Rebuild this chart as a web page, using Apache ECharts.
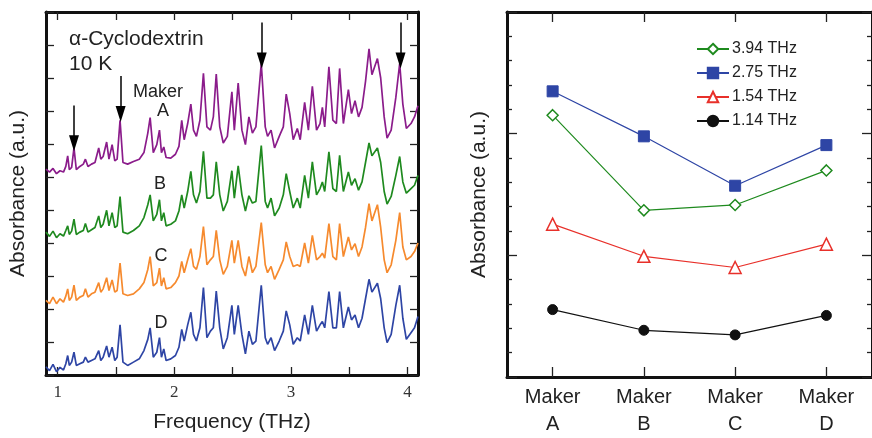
<!DOCTYPE html>
<html>
<head>
<meta charset="utf-8">
<script src="https://cdn.jsdelivr.net/npm/echarts@6/dist/echarts.min.js"></script>
<style>
html,body{margin:0;padding:0;background:#fff;}
#chart{width:872px;height:438px;}
</style>
</head>
<body>
<div id="chart"></div>
<script>
// ---------- Left panel: THz spectra ----------
const freq = [0.90,0.93,0.96,0.99,1.02,1.05,1.07,1.086,1.10,1.12,1.14,1.16,1.19,1.22,1.238,1.26,1.29,1.32,1.352,1.37,
  1.39,1.42,1.44,1.467,1.49,1.51,1.535,1.56,1.60,1.65,1.70,1.74,1.773,1.793,1.82,1.85,1.873,1.89,1.91,1.93,
  1.97,2.01,2.04,2.064,2.085,2.115,2.142,2.165,2.19,2.22,2.25,2.28,2.31,2.335,2.36,2.39,2.42,2.455,2.494,2.515,
  2.548,2.58,2.61,2.64,2.67,2.70,2.746,2.78,2.80,2.83,2.86,2.90,2.935,2.96,2.99,3.02,3.055,3.08,3.118,3.15,
  3.184,3.22,3.25,3.27,3.29,3.326,3.36,3.39,3.418,3.45,3.493,3.52,3.55,3.58,3.61,3.64,3.67,3.695,3.742,3.77,
  3.80,3.825,3.86,3.90,3.933,3.96,3.99,4.03,4.06,4.09];

const makerA = [6.24,6.15,6.26,6.10,6.19,6.15,6.32,6.64,6.22,6.29,6.88,6.22,6.32,6.39,6.54,6.32,6.39,6.44,6.88,6.54,
  6.62,7.06,6.54,6.98,6.49,6.54,7.72,6.44,6.39,6.47,6.54,6.74,7.33,7.80,6.74,6.98,7.42,6.74,6.91,6.59,
  6.57,6.69,6.93,7.72,7.13,7.62,8.21,7.42,7.23,7.72,9.14,7.52,7.42,7.82,9.12,7.52,7.03,7.23,8.58,7.42,
  8.85,7.42,6.98,7.82,7.33,7.52,9.44,7.52,7.23,7.42,6.88,7.23,7.52,8.51,7.92,7.13,7.47,7.13,8.26,7.42,
  8.75,7.42,7.62,8.11,7.52,9.34,7.72,7.62,9.29,7.62,8.65,7.92,8.31,7.82,8.11,8.90,9.88,9.10,9.59,9.00,
  7.82,7.18,7.42,8.41,9.44,8.21,7.47,7.62,7.82,8.16];

const makerB = [4.33,4.20,4.36,4.16,4.28,4.21,4.38,4.52,4.26,4.36,4.72,4.26,4.33,4.38,4.59,4.33,4.40,4.47,4.82,4.47,
  4.57,4.99,4.52,4.92,4.47,4.52,5.41,4.33,4.28,4.38,4.52,4.77,5.16,5.46,4.67,4.87,5.31,4.67,4.92,4.52,
  4.57,4.67,4.97,5.46,5.06,5.56,6.17,5.46,5.21,5.56,6.78,5.36,5.36,5.46,6.46,5.46,4.97,5.26,6.19,5.36,
  6.34,5.46,4.97,5.43,5.21,5.26,6.95,5.26,5.06,5.36,4.82,5.06,5.46,6.10,5.56,5.06,5.36,5.06,6.05,5.36,
  6.46,5.46,5.65,5.85,5.56,6.76,5.65,5.56,6.66,5.56,6.15,5.75,5.95,5.60,5.85,6.44,7.03,6.64,6.88,6.44,
  5.56,5.18,5.41,6.05,6.62,5.85,5.51,5.65,5.75,6.05];

const makerC = [2.26,2.16,2.36,2.16,2.31,2.21,2.39,2.61,2.26,2.36,2.72,2.26,2.36,2.41,2.61,2.36,2.46,2.51,2.80,2.51,
  2.61,2.95,2.56,2.88,2.51,2.56,3.39,2.46,2.41,2.46,2.61,2.80,3.20,3.59,2.70,2.80,3.24,2.70,2.95,2.61,
  2.65,2.80,3.00,3.44,3.10,3.49,3.83,3.29,3.20,3.59,4.50,3.34,3.49,3.59,4.38,3.49,3.05,3.29,4.08,3.39,
  4.08,3.29,3.00,3.59,3.10,3.29,4.62,3.34,3.10,3.29,2.90,3.20,3.49,4.03,3.59,3.29,3.34,3.29,4.00,3.39,
  4.23,3.49,3.59,3.69,3.54,4.59,3.59,3.49,4.59,3.59,4.18,3.79,3.98,3.59,3.88,4.47,5.19,4.67,5.16,4.47,
  3.49,3.10,3.34,4.08,4.92,3.88,3.49,3.59,3.74,4.00];

const makerD = [0.25,0.13,0.32,0.10,0.23,0.15,0.34,0.59,0.29,0.39,0.69,0.29,0.34,0.39,0.54,0.39,0.44,0.49,0.74,0.44,
  0.54,0.88,0.54,0.84,0.44,0.54,1.52,0.39,0.29,0.39,0.49,0.74,1.08,1.43,0.54,0.69,1.13,0.54,0.79,0.44,
  0.49,0.59,0.84,1.38,1.03,1.52,1.90,1.23,1.03,1.43,2.65,1.13,1.33,1.43,2.54,1.43,0.79,1.13,2.11,1.23,
  2.11,1.23,0.64,1.33,0.93,1.03,2.72,1.13,0.93,1.13,0.74,1.03,1.33,1.94,1.52,0.93,1.13,1.03,1.82,1.23,
  2.11,1.33,1.52,1.62,1.43,2.53,1.43,1.43,2.53,1.43,2.06,1.67,1.82,1.43,1.72,2.31,2.90,2.51,2.78,2.31,
  1.43,0.98,1.23,2.11,2.72,1.72,1.08,1.28,1.43,1.77];

const freqTickValues = [1, 1.5, 2, 2.5, 3, 3.5, 4];
const freqLabelValues = [1, 2, 3, 4];

// marked absorption lines (arrows)
const arrowFreq = [1.14, 1.54, 2.75, 3.94];
const arrowTop  = [8.17, 9.06, 10.68, 10.68];
const arrowTip  = [7.02, 7.91, 9.53, 9.53];

// ---------- Right panel: peak absorbance per maker ----------
const makers   = ['Maker\nA', 'Maker\nB', 'Maker\nC', 'Maker\nD'];
const peak394  = [10.76, 6.85, 7.07, 8.49];
const peak275  = [11.74, 9.89, 7.86, 9.53];
const peak154  = [6.28, 4.96, 4.50, 5.46];
const peak114  = [2.77, 1.92, 1.73, 2.53];

const SANS = '"Liberation Sans", Arial, sans-serif';
const SERIF = '"Liberation Serif", "Times New Roman", serif';

const colA = '#8B1C8B', colB = '#1F8A1F', colC = '#F68A2E', colD = '#2E45A5';

function pairs(ys){ return freq.map((f,i)=>[f, ys[i]]); }

const tickStyle = {show:true, inside:true, length:8, lineStyle:{color:'#222', width:1.3}};
const borderLine = {show:true, onZero:false, lineStyle:{color:'#111', width:3}};

const arrowLines = arrowFreq.map((f,i)=>[
  {coord:[f, arrowTop[i]], symbol:'none'},
  {coord:[f, arrowTip[i]], symbol:'triangle', symbolSize:[10,16]}
]);

const spec = (c)=>({color:c, width:1.7});

const option = {
  animation:false,
  backgroundColor:'#fff',
  grid:[
    {left:46, top:12, width:372, height:373},
    {left:507, top:12, width:369, height:370}
  ],
  xAxis:[
    {gridIndex:0, type:'value', min:0.9, max:4.09, position:'bottom',
     name:'Frequency (THz)', nameLocation:'middle', nameGap:37,
     nameTextStyle:{fontFamily:SANS, fontSize:21, color:'#222'},
     axisLine:borderLine, splitLine:{show:false},
     axisTick:Object.assign({customValues:freqTickValues}, tickStyle),
     axisLabel:{customValues:freqLabelValues, margin:9, fontFamily:SERIF, fontSize:17, color:'#333'}},
    {gridIndex:0, type:'value', min:0.9, max:4.09, position:'top',
     axisLine:borderLine, splitLine:{show:false},
     axisTick:Object.assign({customValues:freqTickValues}, tickStyle),
     axisLabel:{show:false}},
    {gridIndex:1, type:'category', data:makers, position:'bottom', boundaryGap:true,
     axisLine:borderLine, splitLine:{show:false},
     axisTick:{show:true, inside:true, alignWithLabel:true, length:10, lineStyle:{color:'#222', width:1.3}},
     axisLabel:{margin:7, fontFamily:SANS, fontSize:20, lineHeight:27, color:'#222'}},
    {gridIndex:1, type:'category', data:makers, position:'top', boundaryGap:true,
     axisLine:borderLine, splitLine:{show:false},
     axisTick:{show:true, inside:true, alignWithLabel:true, length:10, lineStyle:{color:'#222', width:1.3}},
     axisLabel:{show:false}}
  ],
  yAxis:[
    {gridIndex:0, type:'value', min:0, max:11, interval:1, position:'left',
     name:'Absorbance (a.u.)', nameLocation:'middle', nameGap:17,
     nameTextStyle:{fontFamily:SANS, fontSize:21, color:'#222'},
     axisLine:borderLine, splitLine:{show:false}, axisTick:tickStyle, axisLabel:{show:false}},
    {gridIndex:0, type:'value', min:0, max:11, interval:1, position:'right',
     axisLine:borderLine, splitLine:{show:false}, axisTick:tickStyle, axisLabel:{show:false}},
    {gridIndex:1, type:'value', min:0, max:15, interval:5, position:'left',
     name:'Absorbance (a.u.)', nameLocation:'middle', nameGap:17,
     nameTextStyle:{fontFamily:SANS, fontSize:21, color:'#222'},
     axisLine:borderLine, splitLine:{show:false},
     axisTick:{show:true, inside:true, length:10, lineStyle:{color:'#222', width:1.3}},
     minorTick:{show:true, splitNumber:5, length:5, lineStyle:{color:'#222', width:1.3}},
     axisLabel:{show:false}},
    {gridIndex:1, type:'value', min:0, max:15, interval:5, position:'right',
     axisLine:borderLine, splitLine:{show:false},
     axisTick:{show:true, inside:true, length:10, lineStyle:{color:'#222', width:1.3}},
     minorTick:{show:true, splitNumber:5, length:5, lineStyle:{color:'#222', width:1.3}},
     axisLabel:{show:false}}
  ],
  legend:{
    left:691, top:36, orient:'vertical', itemWidth:32, itemHeight:13, itemGap:8,
    data:['3.94 THz','2.75 THz','1.54 THz','1.14 THz'],
    textStyle:{fontFamily:SANS, fontSize:16, color:'#222', padding:[0,0,0,-2]}
  },
  series:[
    {type:'line', name:'Maker A spectrum', xAxisIndex:0, yAxisIndex:0, data:pairs(makerA), showSymbol:false,
     lineStyle:spec(colA), itemStyle:{color:colA},
     markLine:{silent:true, symbol:['none','triangle'], symbolSize:[10,16], label:{show:false},
       lineStyle:{color:'#000', width:1.5, type:'solid'}, itemStyle:{color:'#000'},
       emphasis:{disabled:true}, data:arrowLines}},
    {type:'line', name:'Maker B spectrum', xAxisIndex:0, yAxisIndex:0, data:pairs(makerB), showSymbol:false,
     lineStyle:spec(colB), itemStyle:{color:colB}},
    {type:'line', name:'Maker C spectrum', xAxisIndex:0, yAxisIndex:0, data:pairs(makerC), showSymbol:false,
     lineStyle:spec(colC), itemStyle:{color:colC}},
    {type:'line', name:'Maker D spectrum', xAxisIndex:0, yAxisIndex:0, data:pairs(makerD), showSymbol:false,
     lineStyle:spec(colD), itemStyle:{color:colD}},

    {type:'line', name:'3.94 THz', xAxisIndex:2, yAxisIndex:2, data:peak394,
     symbol:'diamond', symbolSize:11,
     lineStyle:{color:'#1E8A1E', width:1.2},
     itemStyle:{color:'#fff', borderColor:'#1E8A1E', borderWidth:1.5}},
    {type:'line', name:'2.75 THz', xAxisIndex:2, yAxisIndex:2, data:peak275,
     symbol:'rect', symbolSize:11,
     lineStyle:{color:'#2E45A5', width:1.2},
     itemStyle:{color:'#2E45A5', borderColor:'#2E45A5', borderWidth:1}},
    {type:'line', name:'1.54 THz', xAxisIndex:2, yAxisIndex:2, data:peak154,
     symbol:'triangle', symbolSize:12,
     lineStyle:{color:'#E8302A', width:1.2},
     itemStyle:{color:'#fff', borderColor:'#E8302A', borderWidth:1.5}},
    {type:'line', name:'1.14 THz', xAxisIndex:2, yAxisIndex:2, data:peak114,
     symbol:'circle', symbolSize:10,
     lineStyle:{color:'#111', width:1.2},
     itemStyle:{color:'#111', borderColor:'#111', borderWidth:1}}
  ],
  graphic:[
    {type:'text', x:69, y:39, style:{text:'α-Cyclodextrin', font:'21px '+SANS, fill:'#222', verticalAlign:'middle'}},
    {type:'text', x:69, y:64, style:{text:'10 K', font:'21px '+SANS, fill:'#222', verticalAlign:'middle'}},
    {type:'text', x:133, y:92, style:{text:'Maker', font:'18px '+SANS, fill:'#222', verticalAlign:'middle'}},
    {type:'text', x:163, y:111, style:{text:'A', font:'18px '+SANS, fill:'#222', align:'center', verticalAlign:'middle'}},
    {type:'text', x:160, y:184, style:{text:'B', font:'18px '+SANS, fill:'#222', align:'center', verticalAlign:'middle'}},
    {type:'text', x:161, y:256, style:{text:'C', font:'18px '+SANS, fill:'#222', align:'center', verticalAlign:'middle'}},
    {type:'text', x:161, y:323, style:{text:'D', font:'18px '+SANS, fill:'#222', align:'center', verticalAlign:'middle'}}
  ]
};

const chart = echarts.init(document.getElementById('chart'), null, {renderer:'canvas'});
chart.setOption(option);
</script>
</body>
</html>
